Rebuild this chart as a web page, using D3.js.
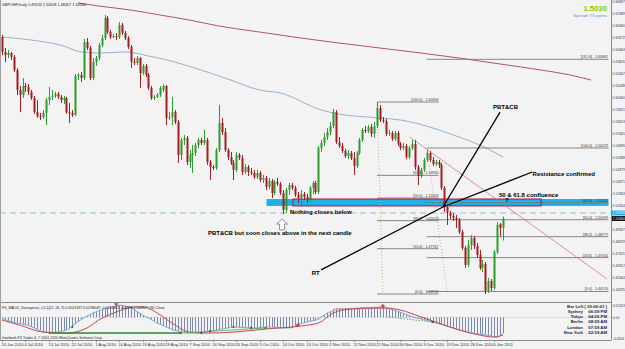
<!DOCTYPE html>
<html><head><meta charset="utf-8">
<script src="https://cdn.jsdelivr.net/npm/d3@7"></script>
<style>html,body{margin:0;padding:0;background:#f3f3f3;overflow:hidden}text{font-family:"Liberation Sans",Arial,sans-serif}</style>
</head><body><svg id="c" width="625" height="349"></svg>
<script>
// ---------- DATA ----------
const opens = [1.6556,1.6430,1.6404,1.6421,1.6388,1.6278,1.6110,1.6068,1.6144,1.6136,
1.6094,1.6043,1.5925,1.5892,1.5883,1.5917,1.6026,1.6052,1.6060,1.6077,
1.6052,1.6026,1.6043,1.5925,1.5917,1.5900,1.6228,1.6236,1.6211,1.6514,
1.6463,1.6211,1.6346,1.6379,1.6488,1.6547,1.6715,1.6598,1.6556,1.6564,
1.6556,1.6657,1.6589,1.6547,1.6472,1.6346,1.6337,1.6379,1.6253,1.6312,
1.6236,1.6127,1.6043,1.6052,1.6068,1.6110,1.6144,1.5875,1.5883,1.5925,
1.5841,1.5564,1.5690,1.5707,1.5505,1.5564,1.5581,1.5648,1.5690,1.5665,
1.5690,1.5505,1.5463,1.5455,1.5606,1.5833,1.5757,1.5606,1.5547,1.5497,
1.5438,1.5564,1.5539,1.5421,1.5463,1.5421,1.5413,1.5379,1.5413,1.5354,
1.5371,1.5295,1.5346,1.5245,1.5337,1.5320,1.5245,1.5102,1.5270,1.5312,
1.5287,1.5228,1.5203,1.5236,1.5211,1.5194,1.5287,1.5329,1.5253,1.5623,
1.5665,1.5715,1.5757,1.5808,1.5925,1.5673,1.5640,1.5598,1.5556,1.5581,
1.5539,1.5472,1.5581,1.5690,1.5774,1.5766,1.5799,1.5741,1.5808,1.5959,
1.5858,1.5850,1.5741,1.5749,1.5699,1.5749,1.5657,1.5623,1.5640,1.5547,
1.5623,1.5657,1.5463,1.5388,1.5438,1.5522,1.5581,1.5522,1.5488,1.5505,
1.5480,1.5287,1.5127,1.5077,1.5052,1.5035,1.5018,1.4917,1.4783,1.4640,
1.4808,1.4867,1.4799,1.4724,1.4615,1.4648,1.4421,1.4505,1.4446,1.4749,
1.4984,1.4953];
const highs = [1.6573,1.6463,1.6446,1.6430,1.6404,1.6295,1.6144,1.6211,1.6169,1.6161,
1.6110,1.6060,1.6026,1.5917,1.5942,1.6043,1.6136,1.6110,1.6094,1.6094,
1.6068,1.6060,1.6052,1.6001,1.5942,1.6245,1.6253,1.6262,1.6539,1.6547,
1.6480,1.6379,1.6396,1.6505,1.6573,1.6741,1.6732,1.6615,1.6581,1.6589,
1.6682,1.6673,1.6606,1.6564,1.6488,1.6379,1.6396,1.6388,1.6329,1.6329,
1.6253,1.6144,1.6068,1.6085,1.6144,1.6161,1.6152,1.5925,1.6052,1.5942,
1.5858,1.5707,1.5732,1.5724,1.5606,1.5648,1.5665,1.5707,1.5707,1.5774,
1.5707,1.5522,1.5480,1.5623,1.5984,1.5875,1.5791,1.5623,1.5589,1.5522,
1.5589,1.5581,1.5564,1.5488,1.5480,1.5455,1.5438,1.5438,1.5430,1.5396,
1.5388,1.5371,1.5362,1.5354,1.5371,1.5337,1.5270,1.5287,1.5329,1.5329,
1.5304,1.5253,1.5270,1.5253,1.5236,1.5304,1.5346,1.5346,1.5640,1.5690,
1.5749,1.5791,1.5841,1.5951,1.5942,1.5715,1.5665,1.5615,1.5606,1.5598,
1.5589,1.5598,1.5707,1.5791,1.5808,1.5816,1.5825,1.5841,1.6009,1.5984,
1.5883,1.5867,1.5774,1.5766,1.5766,1.5766,1.5673,1.5665,1.5657,1.5640,
1.5690,1.5690,1.5480,1.5455,1.5539,1.5606,1.5598,1.5547,1.5522,1.5522,
1.5497,1.5304,1.5152,1.5094,1.5077,1.5060,1.5035,1.4934,1.4799,1.4850,
1.4892,1.4883,1.4825,1.4766,1.4682,1.4665,1.4531,1.4522,1.4766,1.5001,
1.4993,1.5046];
const lows = [1.6404,1.6346,1.6379,1.6362,1.6262,1.6068,1.5925,1.6043,1.6094,1.6068,
1.6026,1.5909,1.5875,1.5858,1.5867,1.5816,1.5984,1.6026,1.6043,1.6035,
1.6001,1.5993,1.5909,1.5833,1.5883,1.5892,1.6194,1.6178,1.6194,1.6446,
1.6194,1.6194,1.6312,1.6362,1.6472,1.6530,1.6581,1.6539,1.6547,1.6530,
1.6539,1.6573,1.6530,1.6455,1.6295,1.6320,1.6320,1.6127,1.6236,1.6220,
1.6110,1.6026,1.6026,1.6043,1.6052,1.6094,1.5816,1.5858,1.5816,1.5825,
1.5497,1.5522,1.5648,1.5480,1.5455,1.5413,1.5556,1.5623,1.5648,1.5648,
1.5480,1.5354,1.5438,1.5438,1.5589,1.5732,1.5589,1.5522,1.5480,1.5354,
1.5421,1.5522,1.5396,1.5404,1.5388,1.5396,1.5362,1.5362,1.5337,1.5329,
1.5270,1.5278,1.5203,1.5228,1.5304,1.5228,1.5068,1.5077,1.5228,1.5270,
1.5211,1.5161,1.5144,1.5186,1.5161,1.5178,1.5236,1.5236,1.5236,1.5589,
1.5640,1.5690,1.5732,1.5791,1.5657,1.5623,1.5581,1.5539,1.5530,1.5522,
1.5396,1.5455,1.5564,1.5673,1.5749,1.5749,1.5715,1.5707,1.5791,1.5841,
1.5833,1.5724,1.5724,1.5682,1.5682,1.5640,1.5606,1.5606,1.5530,1.5530,
1.5606,1.5438,1.5312,1.5371,1.5421,1.5505,1.5505,1.5472,1.5472,1.5455,
1.5270,1.5085,1.4976,1.5026,1.5010,1.4951,1.4900,1.4766,1.4615,1.4623,
1.4766,1.4774,1.4699,1.4598,1.4581,1.4396,1.4404,1.4421,1.4430,1.4732,
1.4883,1.4846];
const closes = [1.6430,1.6404,1.6421,1.6388,1.6278,1.6110,1.6068,1.6144,1.6136,1.6094,
1.6043,1.5925,1.5892,1.5883,1.5917,1.6026,1.6052,1.6060,1.6077,1.6052,
1.6026,1.6043,1.5925,1.5917,1.5900,1.6228,1.6236,1.6211,1.6514,1.6463,
1.6211,1.6346,1.6379,1.6488,1.6547,1.6715,1.6598,1.6556,1.6564,1.6556,
1.6657,1.6589,1.6547,1.6472,1.6346,1.6337,1.6379,1.6253,1.6312,1.6236,
1.6127,1.6043,1.6052,1.6068,1.6127,1.6144,1.5875,1.5883,1.5925,1.5841,
1.5564,1.5690,1.5707,1.5505,1.5564,1.5581,1.5648,1.5690,1.5665,1.5690,
1.5505,1.5463,1.5455,1.5606,1.5833,1.5757,1.5606,1.5547,1.5497,1.5438,
1.5564,1.5539,1.5421,1.5463,1.5421,1.5413,1.5379,1.5413,1.5354,1.5371,
1.5295,1.5346,1.5245,1.5337,1.5320,1.5245,1.5102,1.5270,1.5312,1.5287,
1.5228,1.5203,1.5236,1.5211,1.5194,1.5287,1.5329,1.5253,1.5623,1.5665,
1.5715,1.5757,1.5808,1.5925,1.5673,1.5640,1.5598,1.5556,1.5581,1.5539,
1.5472,1.5581,1.5690,1.5774,1.5766,1.5799,1.5741,1.5808,1.5959,1.5858,
1.5850,1.5741,1.5749,1.5699,1.5749,1.5657,1.5623,1.5640,1.5547,1.5623,
1.5657,1.5463,1.5388,1.5438,1.5522,1.5581,1.5522,1.5488,1.5505,1.5480,
1.5287,1.5127,1.5077,1.5052,1.5035,1.5018,1.4917,1.4783,1.4640,1.4808,
1.4867,1.4799,1.4724,1.4615,1.4648,1.4421,1.4505,1.4446,1.4749,1.4976,
1.4951,1.5030];
const macd = [-0.0012,-0.0020,-0.0029,-0.0037,-0.0045,-0.0052,-0.0056,-0.0061,-0.0066,-0.0074,
-0.0085,-0.0097,-0.0110,-0.0122,-0.0134,-0.0136,-0.0139,-0.0143,-0.0139,-0.0133,
-0.0127,-0.0122,-0.0115,-0.0102,-0.0079,-0.0059,-0.0038,-0.0020,-0.0005,0.0010,
0.0025,0.0039,0.0049,0.0059,0.0067,0.0076,0.0085,0.0092,0.0097,0.0104,
0.0110,0.0108,0.0103,0.0097,0.0088,0.0071,0.0054,0.0037,0.0021,0.0005,
-0.0007,-0.0021,-0.0036,-0.0052,-0.0064,-0.0075,-0.0087,-0.0099,-0.0111,-0.0119,
-0.0124,-0.0130,-0.0136,-0.0143,-0.0143,-0.0143,-0.0143,-0.0143,-0.0141,-0.0136,
-0.0132,-0.0126,-0.0122,-0.0117,-0.0111,-0.0106,-0.0102,-0.0096,-0.0092,-0.0088,
-0.0090,-0.0091,-0.0092,-0.0094,-0.0095,-0.0096,-0.0097,-0.0095,-0.0092,-0.0090,
-0.0088,-0.0088,-0.0090,-0.0092,-0.0094,-0.0095,-0.0097,-0.0097,-0.0095,-0.0092,
-0.0079,-0.0070,-0.0056,-0.0050,-0.0043,-0.0036,-0.0031,-0.0026,-0.0018,0.0003,
0.0021,0.0039,0.0050,0.0061,0.0072,0.0075,0.0075,0.0075,0.0075,0.0075,
0.0075,0.0077,0.0078,0.0079,0.0081,0.0082,0.0084,0.0085,0.0088,0.0091,
0.0094,0.0086,0.0079,0.0071,0.0064,0.0054,0.0046,0.0036,0.0025,0.0015,
0.0006,-0.0003,-0.0008,-0.0015,-0.0022,-0.0029,-0.0035,-0.0043,-0.0051,-0.0058,
-0.0065,-0.0074,-0.0081,-0.0088,-0.0096,-0.0104,-0.0112,-0.0120,-0.0128,-0.0135,
-0.0139,-0.0143,-0.0147,-0.0152,-0.0155,-0.0159,-0.0164,-0.0170,-0.0175,-0.0179,
-0.0165,-0.0143];
const signalIdx = [0,6,14,22,29,33,39,45,48,53,58,64,70,79,90,102,108,113,119,125,131,136,143,149,156,163,168,171];
const signalVal = [-0.0025,-0.0070,-0.0134,-0.0143,-0.0097,-0.0025,0.0048,0.0094,0.0094,0.0039,-0.0052,-0.0134,-0.0143,-0.0134,-0.0106,-0.0079,-0.0052,0.0039,0.0075,0.0084,0.0084,0.0066,0.0003,-0.0052,-0.0115,-0.0161,-0.0179,-0.0161];
const maBlueIdx = [0,10,20,27,33,42,50,59,68,78,88,95,109,115,129,136,146,156,163,171];
const maBlueVal = [1.6556,1.6530,1.6488,1.6430,1.6421,1.6430,1.6396,1.6345,1.6278,1.6194,1.6110,1.6085,1.5942,1.5908,1.5875,1.5858,1.5799,1.5715,1.5648,1.5547];
const maRedIdx = [26,33,44,54,64,74,88,102,115,129,143,156,170,184,194,201];
const maRedVal = [1.6841,1.6816,1.6782,1.6740,1.6698,1.6648,1.6597,1.6547,1.6505,1.6463,1.6421,1.6379,1.6329,1.6278,1.6236,1.6194];
const xTickIdx = [0,8,16,24,32,40,48,56,64,72,80,88,96,104,112,120,128,136,144,152,160,168];
const xTickLabels = ["24 Jun 2010","4 Jul 2010","13 Jul 2010","22 Jul 2010","1 Aug 2010","10 Aug 2010","19 Aug 2010","29 Aug 2010","7 Sep 2010","16 Sep 2010","26 Sep 2010","5 Oct 2010","14 Oct 2010","24 Oct 2010","2 Nov 2010","11 Nov 2010","21 Nov 2010","30 Nov 2010","9 Dec 2010","19 Dec 2010","28 Dec 2010","6 Jan 2011"];
const yTicks = [1.43287,1.44295,1.45304,1.46312,1.47321,1.48329,1.49337,1.50346,1.51354,1.52363,1.53371,1.54379,1.55388,1.56396,1.57405,1.58413,1.59421,1.60430,1.61438,1.62447,1.63455,1.64463,1.65472,1.66480,1.67489,1.68497];
const indTicks = [0.0126,0,-0.0204];
const indTickLabels = ["0.01263","0.00","-0.0204"];
const fibLevels1 = [0,23.6,38.2,50,61.8,100];
const fibRange1 = [1.43959,1.60094];   // low, high
const fibSpan1 = [128,149];            // bar index start/end
const fibLevels2 = [0,23.6,38.2,50,61.8,100,161.8];
const fibRange2 = [1.44170,1.56229];
const fibSpan2 = [145,207];
const zoneTopBottom = [1.5194,1.5136];
const zoneSpan = [90.3,207];
const redBoxSpan = [99.3,184];
const hLinePrice = 1.50766;
const bidPrice = 1.5030;
const lineIdxA = [150.5,150.5,108.9];
const linePrA  = [1.51271,1.51271,1.4598];
const lineIdxB = [170,181,150.5];
const linePrB  = [1.5925,1.5421,1.51271];
const trendIdx = [139.2,206.5];
const trendPr  = [1.5715,1.4522];
const fibDotIdx = [[128,130],[145,152]];
const annoText = ["PBT&CB","Resistance confirmed","50 & 61.8 confluence","?","Nothing closes below","PBT&CB but soon closes above in the next candle","RT"];
const annoIdx  = [167.6,181.1,169.6,171.7,98.3,70.3,105.7];
const annoPr   = [1.5951,1.5388,1.5215,1.5169,1.5068,1.4892,1.4556];
const arrowIdx = 95.6, arrowPr = [1.5026,1.4934];
const divIdxA = [16,61,113,132], divValA = [-0.0143,-0.0143,0.0075,0.0003];
const divIdxB = [61,90,130,147], divValB = [-0.0143,-0.0097,0.0094,-0.0043];
const plusIdx = [39,101,130], plusVal = [0.0121,-0.0070,0.0103];
const dotIdx = [24,61,68,71,79,85,90,147], dotVal = [-0.0088,-0.0143,-0.0141,-0.0126,-0.0088,-0.0096,-0.0097,-0.0043];
const infoCities = ["Sydney","Tokyo","Berlin","London","New York"];
const infoTimes = ["06:59 PM","04:59 PM","08:59 AM","07:59 AM","02:59 AM"];

// ---------- DRAW ----------
const svg = d3.select('#c');
const plotR = 611, mainB = 302, indB = 340;
const x = d3.scaleLinear().domain([0, closes.length-1]).range([2,503]);
const y = d3.scaleLinear().domain(fibRange1).range([294,102]);
const yi = d3.scaleLinear().domain([-0.0215,0.0130]).range([341,303]);
const AX = 3.3; // axis label font size

svg.append('rect').attr('width',625).attr('height',349).attr('fill','#f3f3f3');
const defs = svg.append('defs');
defs.append('clipPath').attr('id','cm').append('rect').attr('x',0).attr('y',0).attr('width',plotR).attr('height',mainB);
defs.append('clipPath').attr('id','ci').append('rect').attr('x',0).attr('y',mainB+1).attr('width',plotR).attr('height',indB-mainB-1);
const g = svg.append('g').attr('clip-path','url(#cm)');

// zone
g.append('rect').attr('x',x(zoneSpan[0])).attr('width',x(zoneSpan[1])-x(zoneSpan[0]))
 .attr('y',y(zoneTopBottom[0])).attr('height',y(zoneTopBottom[1])-y(zoneTopBottom[0])).attr('fill','#1db1ea');
// dashed horizontal
g.append('line').attr('x1',0).attr('x2',plotR).attr('y1',y(hLinePrice)).attr('y2',y(hLinePrice))
 .attr('stroke','#a9d6e6').attr('stroke-width',1.3).attr('stroke-dasharray','6,4');

// moving averages
const lineGen = d3.line().x(d=>x(d[0])).y(d=>y(d[1])).curve(d3.curveMonotoneX);
g.append('path').attr('d',lineGen(maBlueIdx.map((d,i)=>[d,maBlueVal[i]]))).attr('fill','none').attr('stroke','#93b2cf').attr('stroke-width',1);
g.append('path').attr('d',lineGen(maRedIdx.map((d,i)=>[d,maRedVal[i]]))).attr('fill','none').attr('stroke','#b4506c').attr('stroke-width',1);

// fib dotted diagonals
fibDotIdx.forEach((s,k)=>{
  const r = k===0?fibRange1:fibRange2;
  g.append('line').attr('x1',x(s[0])).attr('y1',y(r[1])).attr('x2',x(s[1])).attr('y2',y(r[0]))
   .attr('stroke','#d8b47a').attr('stroke-width',1).attr('stroke-dasharray','1,2');
});
// fib levels
function drawFib(levels, range, span, labelRight){
  levels.forEach(l=>{
    const p = range[0] + (range[1]-range[0])*l/100;
    g.append('line').attr('x1',x(span[0])).attr('x2',x(span[1])).attr('y1',y(p)).attr('y2',y(p))
     .attr('stroke','#7a7a7a').attr('stroke-width',0.9);
    g.append('text').attr('x',labelRight).attr('y',y(p)-1).attr('text-anchor','end')
     .attr('font-size',3.6).attr('fill','#333').text(`[${l.toFixed(1)}] - ${p.toFixed(5)}`);
  });
}
drawFib(fibLevels1, fibRange1, fibSpan1, x(fibSpan1[1]));
drawFib(fibLevels2, fibRange2, fibSpan2, 608);

// candles
const cg = g.append('g');
closes.forEach((c,i)=>{
  const xr = Math.round(x(i));
  const up = c >= opens[i];
  const col = up ? '#2f9b2f' : '#a31e22';
  cg.append('line').attr('x1',xr+0.5).attr('x2',xr+0.5).attr('y1',y(highs[i])).attr('y2',y(lows[i])).attr('stroke',col).attr('stroke-width',1);
  const t = y(Math.max(c,opens[i])), b = y(Math.min(c,opens[i]));
  cg.append('rect').attr('x',xr-0.5).attr('width',2).attr('y',t).attr('height',Math.max(1,b-t)).attr('fill',col);
});

// red box
g.append('rect').attr('x',x(redBoxSpan[0])).attr('width',x(redBoxSpan[1])-x(redBoxSpan[0]))
 .attr('y',y(zoneTopBottom[0])).attr('height',y(zoneTopBottom[1])-y(zoneTopBottom[0]))
 .attr('fill','none').attr('stroke','#b0203e').attr('stroke-width',1.1);
// trend line
g.append('line').attr('x1',x(trendIdx[0])).attr('y1',y(trendPr[0])).attr('x2',x(trendIdx[1])).attr('y2',y(trendPr[1]))
 .attr('stroke','#d77090').attr('stroke-width',0.8);
// annotation lines
lineIdxA.forEach((a,i)=>{
  g.append('line').attr('x1',x(a)).attr('y1',y(linePrA[i])).attr('x2',x(lineIdxB[i])).attr('y2',y(linePrB[i]))
   .attr('stroke','#000').attr('stroke-width',1.3);
});
// arrow
{
  const cx = x(arrowIdx), yt = y(arrowPr[0]), yb = y(arrowPr[1]);
  const p = `M${cx},${yt} L${cx+5.5},${yt+5} L${cx+2.5},${yt+5} L${cx+2.5},${yb} L${cx-2.5},${yb} L${cx-2.5},${yt+5} L${cx-5.5},${yt+5} Z`;
  g.append('path').attr('d',p).attr('fill','#fff').attr('stroke','#777').attr('stroke-width',0.8);
}
// annotation texts
annoText.forEach((t,i)=>{
  g.append('text').attr('x',x(annoIdx[i])).attr('y',y(annoPr[i])).attr('font-size',6).attr('font-weight','bold').attr('fill','#000').text(t);
});

// header texts
svg.append('text').attr('x',2).attr('y',6).attr('font-size',3.8).attr('fill','#222').text('GBPCHF,Daily  1.49533 1.50458 1.48457 1.50300');
svg.append('text').attr('x',607).attr('y',11).attr('text-anchor','end').attr('font-size',7.8).attr('font-weight','bold').attr('fill','#7ad400').text(bidPrice.toFixed(4));
svg.append('text').attr('x',607).attr('y',16.5).attr('text-anchor','end').attr('font-size',4.3).attr('fill','#6f8fbf').text('Spread: 73 points');

// price axis
svg.append('line').attr('x1',plotR+0.5).attr('x2',plotR+0.5).attr('y1',0).attr('y2',indB).attr('stroke','#8a8a8a');
const ya = svg.append('g');
yTicks.forEach(v=>{
  const yy = y(v);
  if (yy < 2 || yy > mainB-1) return;
  ya.append('line').attr('x1',plotR).attr('x2',plotR+1.5).attr('y1',yy).attr('y2',yy).attr('stroke','#666').attr('stroke-width',0.6);
  ya.append('text').attr('x',plotR+1.8).attr('y',yy+1.2).attr('font-size',AX).attr('fill','#333').text(v.toFixed(5));
});
// price labels on axis
[[hLinePrice,'#1db1ea'],[bidPrice,'#000']].forEach(([v,c])=>{
  const yy = y(v);
  svg.append('rect').attr('x',plotR+1).attr('y',yy-2.4).attr('width',14).attr('height',4.8).attr('fill',c);
  svg.append('text').attr('x',plotR+1.8).attr('y',yy+1.2).attr('font-size',AX).attr('fill','#fff').text(v.toFixed(5));
});

// panel borders
svg.append('line').attr('x1',0).attr('x2',plotR).attr('y1',mainB+0.5).attr('y2',mainB+0.5).attr('stroke','#8a8a8a');
svg.append('line').attr('x1',0).attr('x2',plotR).attr('y1',indB+0.5).attr('y2',indB+0.5).attr('stroke','#8a8a8a');
svg.append('line').attr('x1',0.5).attr('x2',0.5).attr('y1',0).attr('y2',indB).attr('stroke','#a0a0a0');

// indicator panel
const ig = svg.append('g').attr('clip-path','url(#ci)');
ig.append('line').attr('x1',0).attr('x2',plotR).attr('y1',yi(0)).attr('y2',yi(0)).attr('stroke','#999').attr('stroke-width',0.6).attr('stroke-dasharray','1,1.5');
macd.forEach((v,i)=>{
  const xr = Math.round(x(i))+0.5;
  ig.append('line').attr('x1',xr).attr('x2',xr).attr('y1',yi(0)).attr('y2',yi(v)).attr('stroke','#5d6c98').attr('stroke-width',0.8);
});
const il = d3.line().x(d=>x(d[0])).y(d=>yi(d[1])).curve(d3.curveMonotoneX);
ig.append('path').attr('d',il(macd.map((v,i)=>[i,v]))).attr('fill','none').attr('stroke','#6fa9de').attr('stroke-width',1);
ig.append('path').attr('d',il(signalIdx.map((d,i)=>[d,signalVal[i]]))).attr('fill','none').attr('stroke','#c9454f').attr('stroke-width',1);
divIdxA.forEach((a,i)=>{
  const st = i===0?{c:'#2b8a2b',w:1.4,d:null}:i===1?{c:'#5db35d',w:0.9,d:null}:i===2?{c:'#c9454f',w:0.8,d:'1.5,1.5'}:{c:'#3a9a3a',w:0.8,d:'1.5,1.5'};
  ig.append('line').attr('x1',x(a)).attr('y1',yi(divValA[i])).attr('x2',x(divIdxB[i])).attr('y2',yi(divValB[i]))
    .attr('stroke',st.c).attr('stroke-width',st.w).attr('stroke-dasharray',st.d);
});
plusIdx.forEach((d,i)=>{
  const cx=x(d), cy=yi(plusVal[i]);
  ig.append('path').attr('d',`M${cx-2},${cy}H${cx+2}M${cx},${cy-2}V${cy+2}`).attr('stroke','#c8202a').attr('stroke-width',1);
});
dotIdx.forEach((d,i)=>{
  ig.append('circle').attr('cx',x(d)).attr('cy',yi(dotVal[i])).attr('r',1.1).attr('fill','#1f6e1f');
});
svg.append('text').attr('x',2).attr('y',308.5).attr('font-size',3.6).attr('fill','#222')
  .text('FX_MACD_Divergence_v1.1(12, 26, 9) 0.0021187 0.0238049 -0.0216861 -0.0198 0.008827 (N) Close');
svg.append('text').attr('x',2).attr('y',338.5).attr('font-size',3.5).attr('fill','#222')
  .text('Interbank FX Trader 4, \u00a9 2001-2010 MetaQuotes Software Corp.');
// indicator axis labels
indTicks.forEach((v,i)=>{
  const yy = Math.min(Math.max(yi(v)+1.2, 307), 339.5);
  svg.append('text').attr('x',plotR+1.8).attr('y',yy).attr('font-size',AX).attr('fill','#333').text(indTickLabels[i]);
});
// info box
svg.append('text').attr('x',607).attr('y',307.7).attr('text-anchor','end').attr('font-size',4.3).attr('font-weight','bold').attr('fill','#1b1b45').text('Bar Left [ 03:00:01 ]');
infoCities.forEach((c,i)=>{
  const yy = 312.9 + i*5.25;
  svg.append('text').attr('x',583).attr('y',yy).attr('text-anchor','end').attr('font-size',4.3).attr('font-weight','bold').attr('fill','#1b1b45').text(c);
  svg.append('text').attr('x',607).attr('y',yy).attr('text-anchor','end').attr('font-size',4.3).attr('font-weight','bold').attr('fill','#1b1b45').text(infoTimes[i]);
});

// time axis
xTickIdx.forEach((d,i)=>{
  const xx = Math.round(x(d))+0.5;
  svg.append('line').attr('x1',xx).attr('x2',xx).attr('y1',indB).attr('y2',indB+2).attr('stroke','#666').attr('stroke-width',0.6);
  svg.append('text').attr('x',xx-1).attr('y',345.5).attr('font-size',4).attr('fill','#333').text(xTickLabels[i]);
});
</script></body></html>
